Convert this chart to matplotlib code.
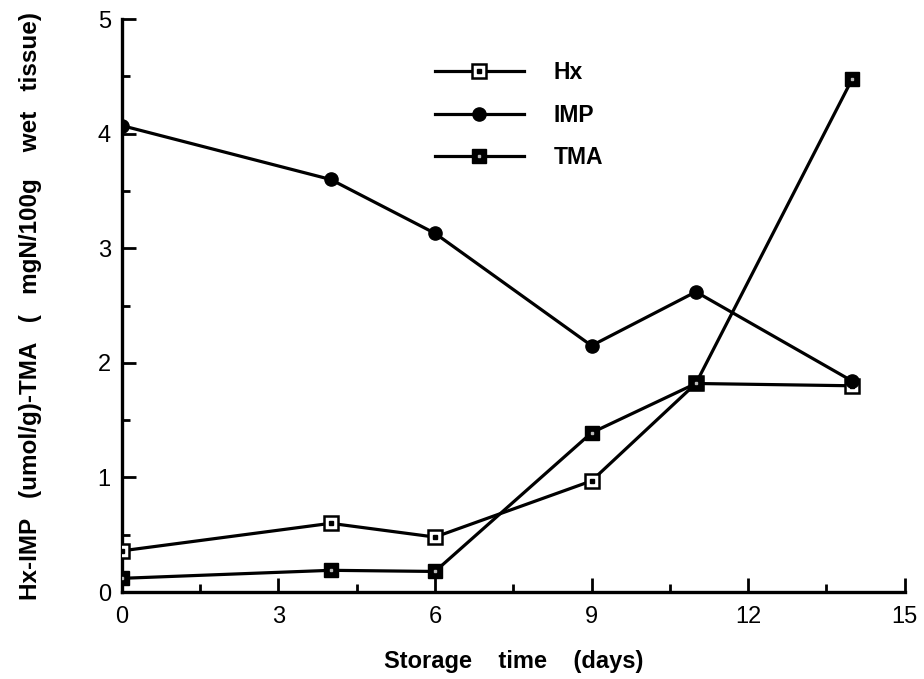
import matplotlib
matplotlib.use("Agg")
import matplotlib.pyplot as plt
from matplotlib.ticker import MultipleLocator
from matplotlib.legend_handler import HandlerTuple

days = [0, 4, 6, 9, 11, 14]
hx = [0.36, 0.60, 0.48, 0.97, 1.82, 1.80]
imp = [4.07, 3.60, 3.13, 2.15, 2.62, 1.84]
tma = [0.12, 0.19, 0.18, 1.39, 1.82, 4.48]

x_label = "Storage    time    (days)"
y_label = "Hx-IMP   (umol/g)-TMA   (   mgN/100g    wet   tissue)"

plt.rcParams["font.family"] = ["Liberation Sans", "DejaVu Sans"]

fig = plt.figure(figsize=(9.24, 6.79), dpi=100)
ax = fig.add_axes([0.132, 0.128, 0.847, 0.844])

lw = 2.3
ms = 9.5
(l_hx,) = ax.plot(days, hx, color="black", lw=lw, marker="s", ms=ms,
                  mfc="white", mec="black", mew=1.8, zorder=3)
(d_hx,) = ax.plot(days, hx, ls="none", marker="s", ms=2.2, color="black", zorder=4)
(l_imp,) = ax.plot(days, imp, color="black", lw=lw, marker="o", ms=ms,
                   mfc="black", mec="black", zorder=3)
(l_tma,) = ax.plot(days, tma, color="black", lw=lw, marker="s", ms=ms,
                   mfc="black", mec="black", zorder=3)
(d_tma,) = ax.plot(days, tma, ls="none", marker="s", ms=2.0, color="#bbbbbb",
                   zorder=4)

ax.set_xlim(0, 15)
ax.set_ylim(0, 5)
ax.xaxis.set_major_locator(MultipleLocator(3))
ax.xaxis.set_minor_locator(MultipleLocator(1.5))
ax.yaxis.set_major_locator(MultipleLocator(1))
ax.yaxis.set_minor_locator(MultipleLocator(0.5))

for s in ("top", "right"):
    ax.spines[s].set_visible(False)
for s in ("left", "bottom"):
    ax.spines[s].set_linewidth(2.4)
ax.tick_params(which="major", direction="in", length=10, width=2,
               labelsize=17, pad=8)
ax.tick_params(which="minor", direction="in", length=6, width=2)
ax.tick_params(axis="x", pad=10)

ax.set_xlabel(x_label, fontsize=17, fontweight="bold", labelpad=16)
ax.set_ylabel(y_label, fontsize=17.5, fontweight="bold", labelpad=40)

leg = ax.legend([(l_hx, d_hx), l_imp, (l_tma, d_tma)], ["Hx", "IMP", "TMA"],
                handler_map={tuple: HandlerTuple(ndivide=1, pad=0)},
                loc="upper left", bbox_to_anchor=(0.373, 0.962), frameon=False,
                handlelength=3.9, handletextpad=1.3, labelspacing=0.85,
                prop={"size": 16.5, "weight": "bold"})

fig.savefig("out.png", dpi=100)
